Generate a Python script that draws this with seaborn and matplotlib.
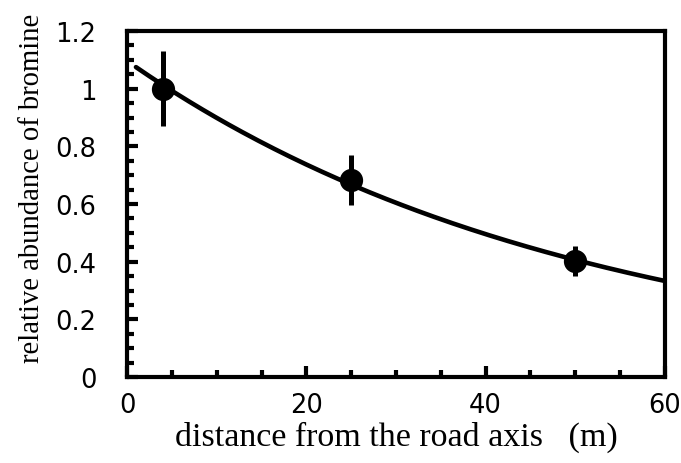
import numpy as np
import pandas as pd
import matplotlib
matplotlib.use("Agg")
import matplotlib.pyplot as plt
import seaborn as sns
from matplotlib.ticker import MultipleLocator, FuncFormatter

# data
distance = [4, 25, 50]
abundance = [1.0, 0.683, 0.402]
err = [0.13, 0.088, 0.053]

sns.set_theme(style="white")
plt.rcParams['font.family'] = ['DejaVu Sans']
plt.rcParams['text.color'] = 'black'
plt.rcParams['axes.labelcolor'] = 'black'

df = pd.DataFrame({"distance": distance, "abundance": abundance})

# exponential fit through the measured points
b, lna = np.polyfit(df["distance"], np.log(df["abundance"]), 1)
xf = np.linspace(1, 60, 200)
fit = pd.DataFrame({"x": xf, "y": np.exp(lna) * np.exp(b * xf)})

fig = plt.figure(figsize=(6.81, 4.64), dpi=100)
ax = fig.add_axes([0.1865, 0.1853, 0.79, 0.7457])

sns.lineplot(data=fit, x="x", y="y", ax=ax, color="black", linewidth=3.3)
ax.errorbar(df["distance"], df["abundance"], yerr=err, fmt="none",
            ecolor="black", elinewidth=3.6, capsize=0)
sns.scatterplot(data=df, x="distance", y="abundance", ax=ax, color="black",
                s=240, edgecolor="black", zorder=5)

ax.set_xlim(0, 60)
ax.set_ylim(0, 1.2)
ax.xaxis.set_major_locator(MultipleLocator(20))
ax.xaxis.set_minor_locator(MultipleLocator(5))
ax.yaxis.set_major_locator(MultipleLocator(0.2))
ax.yaxis.set_minor_locator(MultipleLocator(0.05))
ax.yaxis.set_major_formatter(FuncFormatter(lambda v, p: f"{v:g}"))
ax.xaxis.set_major_formatter(FuncFormatter(lambda v, p: f"{v:g}"))

ax.tick_params(axis="both", which="both", bottom=True, left=True, top=False, right=False)
ax.tick_params(axis="both", which="major", direction="in", length=8, width=3,
               labelsize=18.5, colors="black")
ax.tick_params(axis="both", which="minor", direction="in", length=5, width=3,
               colors="black")
ax.tick_params(axis="y", which="major", pad=22)
ax.tick_params(axis="x", which="major", pad=11)

for s in ax.spines.values():
    s.set_linewidth(3)
    s.set_color("black")
    s.set_visible(True)

ax.set_xlabel("distance from the road axis   (m)", family=["Liberation Serif"],
              fontsize=24.5, color="black")
ax.set_ylabel("relative abundance of bromine", family=["Liberation Serif"],
              fontsize=20.6, color="black")
ax.xaxis.set_label_coords(0.5, -0.126)
ax.yaxis.set_label_coords(-0.152, 0.549)

fig.savefig("out.png", dpi=100)
